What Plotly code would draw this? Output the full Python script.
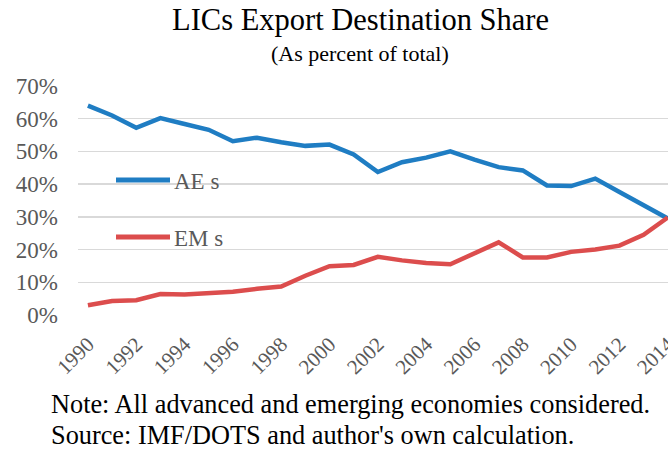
import plotly.graph_objects as go

years = list(range(1990, 2015))
ae_share = [0.640, 0.610, 0.572, 0.602, 0.584, 0.566, 0.531, 0.542, 0.528, 0.517, 0.521,
            0.491, 0.437, 0.467, 0.481, 0.500, 0.475, 0.452, 0.442, 0.396, 0.394, 0.417,
            0.376, 0.335, 0.295]
em_share = [0.030, 0.043, 0.045, 0.064, 0.063, 0.068, 0.071, 0.080, 0.087, 0.120, 0.149,
            0.153, 0.178, 0.167, 0.159, 0.155, 0.188, 0.222, 0.176, 0.176, 0.193, 0.200,
            0.212, 0.245, 0.298]
tick_years = list(range(1990, 2015, 2))
tick_labels = [str(y) for y in tick_years]
series_names = ["AE s", "EM s"]
series_colors = ["#1f7dc3", "#dc4d4d"]

serif = "Liberation Serif, Times New Roman, serif"
gray = "#595959"

W, H = 668, 449
L, R, T, B = 78, 0, 86, 134
pw, ph = W - L - R, H - T - B


def px_x(x):
    return (x - L) / pw


def px_y(y):
    return (H - B - y) / ph


fig = go.Figure()
for name, vals, col in zip(series_names, [ae_share, em_share], series_colors):
    fig.add_trace(go.Scatter(x=years, y=vals, mode="lines", name=name,
                             line=dict(color=col, width=4.5), showlegend=False,
                             hoverinfo="skip"))

# legend drawn as key lines + labels
shapes = []
annotations = []
for name, col, ly in zip(series_names, series_colors, [180, 237]):
    shapes.append(dict(type="line", xref="paper", yref="paper",
                       x0=px_x(116), x1=px_x(170), y0=px_y(ly), y1=px_y(ly),
                       line=dict(color=col, width=5)))
    annotations.append(dict(text=name, xref="paper", yref="paper",
                            x=px_x(172), y=px_y(ly + 1), xanchor="left", yanchor="middle",
                            showarrow=False, font=dict(family=serif, size=23, color=gray)))

annotations += [
    dict(text="LICs Export Destination Share", xref="paper", yref="paper",
         x=px_x(360), y=px_y(20), xanchor="center", yanchor="middle",
         showarrow=False, font=dict(family=serif, size=30.5, color="black")),
    dict(text="(As percent of total)", xref="paper", yref="paper",
         x=px_x(360), y=px_y(53), xanchor="center", yanchor="middle",
         showarrow=False, font=dict(family=serif, size=22, color="black")),
    dict(text="Note: All advanced and emerging economies considered.", xref="paper", yref="paper",
         x=px_x(49), y=px_y(404), xanchor="left", yanchor="middle",
         showarrow=False, font=dict(family=serif, size=26.3, color="black")),
    dict(text="Source: IMF/DOTS and author's own calculation.", xref="paper", yref="paper",
         x=px_x(49), y=px_y(435.5), xanchor="left", yanchor="middle",
         showarrow=False, font=dict(family=serif, size=26.3, color="black")),
]

fig.update_layout(
    width=W, height=H,
    margin=dict(l=L, r=R, t=T, b=B, autoexpand=False),
    paper_bgcolor="white", plot_bgcolor="white",
    font=dict(family=serif, color=gray),
    showlegend=False,
    hovermode=False,
    shapes=shapes,
    annotations=annotations,
)
fig.update_xaxes(range=[1989.59, 2014.01], tickmode="array", tickvals=tick_years,
                 ticktext=tick_labels, tickangle=-45, showgrid=False, zeroline=False,
                 showline=False, ticks="", automargin=False, ticklabeloverflow="allow",
                 ticklabelstandoff=12,
                 tickfont=dict(family=serif, size=21, color=gray))
fig.update_yaxes(range=[0, 0.7], dtick=0.1, tickformat=".0%", showgrid=True,
                 gridcolor="#d9d9d9", gridwidth=1.5, zeroline=False, showline=False,
                 ticks="", ticklabelstandoff=19, automargin=False,
                 tickfont=dict(family=serif, size=23, color=gray))

fig.write_html("out.html", config={"displayModeBar": False, "staticPlot": True},
               post_script="document.body.style.margin='0px';document.body.style.overflow='hidden';")
